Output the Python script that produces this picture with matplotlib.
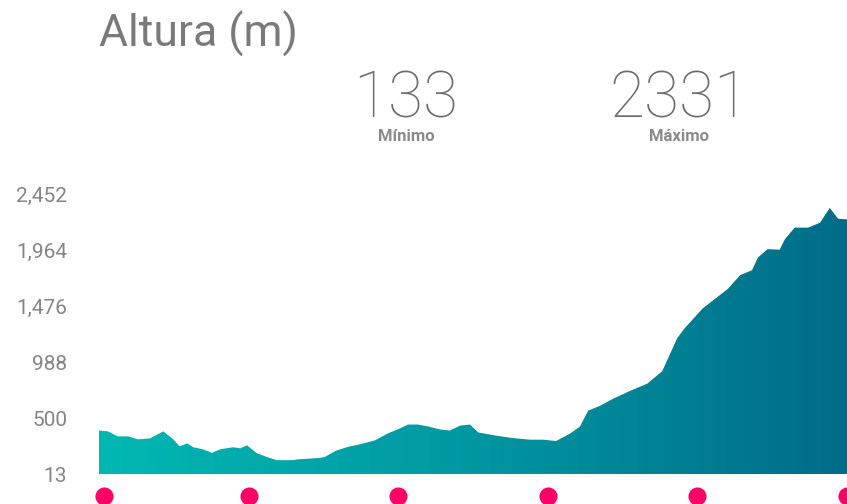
import numpy as np
import matplotlib
matplotlib.use("Agg")
import matplotlib.pyplot as plt
from matplotlib.colors import LinearSegmentedColormap

# ---- data ----
distance = [0, 1.2, 2.5, 3.9, 5.2, 6.8, 8.6, 9.8, 10.8, 11.8, 12.6, 13.9, 15.1, 16.2,
            17.9, 18.9, 19.8, 21.1, 22.5, 23.8, 25.9, 26.5, 29.5, 30.2, 31.6, 33.2,
            34.9, 36.9, 38.6, 40.2, 41.3, 42.6, 44.0, 45.6, 46.9, 48.3, 49.6, 50.7,
            52.9, 55.3, 57.6, 59.4, 61.1, 63.0, 64.3, 65.4, 67.0, 68.7, 71.0, 73.3,
            75.3, 76.1, 77.3, 78.3, 80.7, 84.1, 85.7, 87.3, 88.1, 89.4, 91.0, 91.7,
            93.0, 94.8, 96.4, 97.7, 98.8, 100.0]
altitude = [392, 384, 341, 341, 315, 323, 384, 323, 254, 280, 246, 228, 197, 228,
            246, 237, 263, 194, 160, 133, 134, 140, 153, 162, 214, 248,
            272, 306, 366, 409, 444, 444, 427, 401, 392, 435, 444, 375,
            349, 326, 312, 312, 300, 366, 427, 565, 608, 668, 737, 800,
            909, 1024, 1196, 1283, 1455, 1627, 1745, 1788, 1900, 1972, 1967, 2058,
            2159, 2159, 2202, 2331, 2237, 2231]
ytick_values = [13, 500, 988, 1476, 1964, 2452]
ytick_labels = ["13", "500", "988", "1,476", "1,964", "2,452"]
marker_positions = [0.7, 20, 40, 60, 80, 100]
min_label = "133"
max_label = "2331"

W, H = 847, 504
fig = plt.figure(figsize=(W / 100, H / 100), dpi=100)
fig.patch.set_facecolor("white")

ax_left = 99 / W
ax_top_px = 180
ax = fig.add_axes([ax_left, 0.0, 1 - ax_left, (H - ax_top_px) / H])
ax.set_xlim(0, 100)
ax.set_ylim(-248.3, 2574)
for s in ax.spines.values():
    s.set_visible(False)
ax.set_facecolor("none")

# gradient-filled area
poly = ax.fill_between(distance, 13, altitude, color="none", linewidth=0)
cmap = LinearSegmentedColormap.from_list("g", ["#00B8B2", "#0097A1", "#006C88"])
grad = np.linspace(0, 1, 512).reshape(1, -1)
im = ax.imshow(grad, cmap=cmap, aspect="auto", extent=[0, 100, 13, 2450],
               origin="lower", zorder=2)
im.set_clip_path(poly.get_paths()[0], transform=ax.transData)

# markers
ax.scatter(marker_positions, [-178.6] * len(marker_positions), s=170,
           color="#FF0066", clip_on=False, zorder=3, linewidths=0)

# y axis
ax.set_yticks(ytick_values)
ax.set_yticklabels(ytick_labels)
ax.tick_params(axis="y", length=0, pad=23, labelsize=15, labelcolor="#858585")
for t in ax.get_yticklabels():
    t.set_fontfamily("Roboto")
ax.set_xticks([])

# texts
fig.text(99 / W, 1 - 47 / H, "Altura (m)", fontsize=32, color="#7a7a7a",
         family="Roboto", fontweight="normal", ha="left", va="baseline")
fig.text(406 / W, 1 - 117 / H, min_label, fontsize=46, color="#6c6c6c",
         family="Roboto", fontweight="light", ha="center", va="baseline")
fig.text(679 / W, 1 - 117 / H, max_label, fontsize=46, color="#6c6c6c",
         family="Roboto", fontweight="light", ha="center", va="baseline")
fig.text(406 / W, 1 - 141 / H, "Mínimo", fontsize=12, color="#8a8a8a",
         family="Roboto", fontweight="bold", ha="center", va="baseline")
fig.text(679 / W, 1 - 141 / H, "Máximo", fontsize=12, color="#8a8a8a",
         family="Roboto", fontweight="bold", ha="center", va="baseline")

fig.savefig("out.png", dpi=100, facecolor="white")
